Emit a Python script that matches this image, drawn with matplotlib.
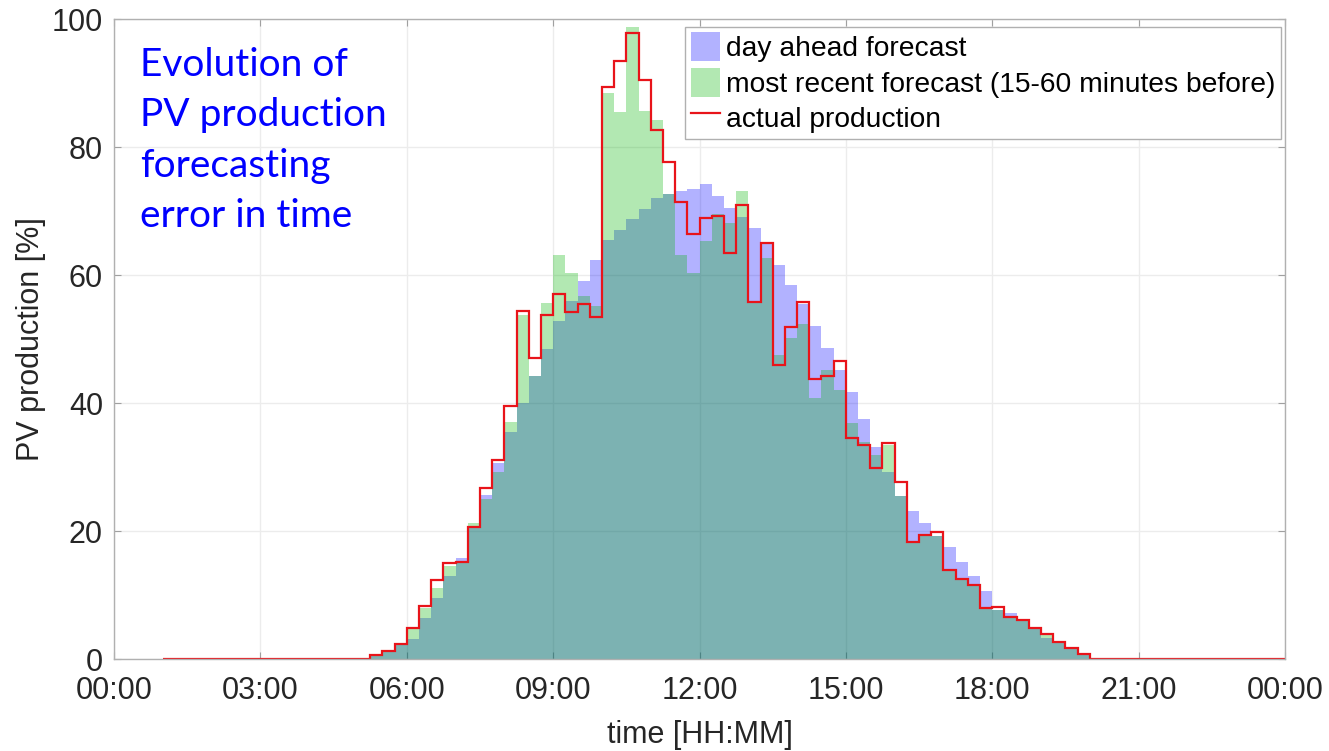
import numpy as np
import matplotlib
matplotlib.use("Agg")
import matplotlib.pyplot as plt

plt.rcParams['font.family'] = ['Liberation Sans', 'DejaVu Sans']

# 15-minute bins; data starts at 01:00 and ends at 24:00
start_hour = 1.0
first_bin = 5.25      # first non-zero bin (05:15)
end_hour = 24.0

# values [%] for bins 05:15 ... 19:45
actual = [0.6, 1.3, 2.3, 4.9, 8.3, 12.4, 15.0, 15.2, 20.7, 26.7, 31.1,
          39.6, 54.4, 47.0, 53.8, 57.1, 54.2, 55.5, 53.5,
          89.4, 93.5, 97.8, 90.5, 82.7, 77.6, 71.4, 66.5,
          69.0, 69.2, 63.5, 70.9, 55.8, 65.0, 45.9, 51.9,
          55.8, 43.8, 44.2, 46.6, 34.5, 33.5, 29.8, 33.8,
          27.6, 18.3, 19.4, 19.9, 13.9, 12.5, 11.6, 7.9,
          8.2, 6.5, 6.1, 4.9, 3.9, 2.7, 1.7, 0.8]
day_ahead = [0.5, 1.2, 2.2, 3.2, 6.4, 9.5, 12.9, 15.8, 20.7, 25.7, 30.6,
             35.4, 40.0, 44.2, 48.4, 52.8, 55.9, 59.0, 62.3,
             65.5, 67.1, 68.8, 70.4, 72.1, 72.7, 73.1, 73.5,
             74.2, 72.3, 70.5, 69.1, 67.4, 64.8, 61.5, 58.5,
             55.5, 52.0, 48.6, 45.2, 41.7, 37.5, 33.2, 29.2,
             25.4, 23.1, 21.2, 19.3, 17.5, 15.2, 12.9, 10.7,
             7.7, 7.2, 6.0, 4.9, 3.3, 2.6, 1.6, 0.7]
recent = [0.5, 1.2, 2.2, 4.7, 8.0, 11.1, 14.6, 15.0, 21.2, 25.0, 29.3,
          37.1, 53.8, 44.2, 55.7, 63.2, 60.4, 56.8, 55.1,
          88.5, 85.5, 98.8, 85.6, 84.3, 72.7, 63.2, 60.4,
          65.3, 69.5, 68.2, 73.1, 55.9, 62.7, 47.5, 50.2,
          52.3, 40.8, 45.2, 42.1, 36.9, 33.9, 31.9, 33.5,
          25.4, 18.5, 19.6, 19.3, 13.7, 12.4, 11.7, 7.8,
          7.7, 6.4, 6.0, 4.8, 3.7, 2.6, 1.7, 0.7]

x_ticks = [0, 3, 6, 9, 12, 15, 18, 21, 24]
x_labels = ['00:00', '03:00', '06:00', '09:00', '12:00', '15:00', '18:00', '21:00', '00:00']
y_ticks = [0, 20, 40, 60, 80, 100]

# build full series from 01:00 to 24:00 (zeros outside the daylight window)
n_bins = int(round((end_hour - start_hour) * 4))
edges = start_hour + np.arange(n_bins + 1) / 4.0
offset = int(round((first_bin - start_hour) * 4))

def full(vals):
    out = np.zeros(n_bins)
    out[offset:offset + len(vals)] = vals
    return out

fig = plt.figure(figsize=(13.29, 7.51), dpi=100)
ax = fig.add_axes([0.0858, 0.1225, 0.8811, 0.852])

ax.stairs(full(day_ahead), edges, fill=True, color=(0, 0, 1), alpha=0.3,
          linewidth=0, label='day ahead forecast')
ax.stairs(full(recent), edges, fill=True, color=(0, 0.7, 0), alpha=0.3,
          linewidth=0, label='most recent forecast (15-60 minutes before)')
ax.stairs(full(actual), edges, baseline=None, color='#e8141a', linewidth=1.6,
          label='actual production')

ax.set_xlim(0, 24)
ax.set_ylim(0, 100)
ax.set_xticks(x_ticks)
ax.set_xticklabels(x_labels)
ax.set_yticks(y_ticks)
ax.grid(True, color='#ececec', linewidth=1.0)
ax.set_axisbelow(True)
for s in ax.spines.values():
    s.set_color('#b0b0b0')
    s.set_linewidth(1.0)
ax.tick_params(direction='in', length=5, color='#a0a0a0', labelsize=22,
               labelcolor='#262626', top=True, right=True)
ax.tick_params(axis='x', pad=12)
ax.tick_params(axis='y', pad=8)

ax.set_xlabel('time [HH:MM]', fontsize=22, color='#262626', labelpad=10)
ax.set_ylabel('PV production [%]', fontsize=22, color='#262626', labelpad=4)

leg = ax.legend(loc='upper right', bbox_to_anchor=(0.9965, 0.9885),
                borderaxespad=0, fontsize=20.3, frameon=True, fancybox=False,
                framealpha=1, edgecolor='#b0b0b0', handlelength=1.05,
                handleheight=1.2, handletextpad=0.2, labelspacing=0.2,
                borderpad=0.2)
leg.get_frame().set_linewidth(1.0)

ax.text(0.022, 0.957, 'Evolution of\nPV production\nforecasting\nerror in time',
        transform=ax.transAxes, ha='left', va='top', color='#0000ff',
        fontsize=28, family=['Lato', 'DejaVu Sans'], linespacing=1.5)

fig.savefig('out.png', dpi=100)
